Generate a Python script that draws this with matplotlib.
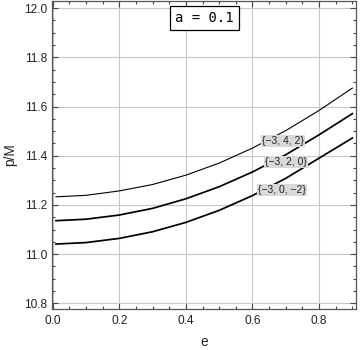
import matplotlib
matplotlib.use("Agg")
import matplotlib.pyplot as plt
from matplotlib.ticker import MultipleLocator, FormatStrFormatter

e_vals = [0.01, 0.1, 0.2, 0.3, 0.4, 0.5, 0.6, 0.7, 0.8, 0.9]
p_342 = [11.233, 11.239, 11.257, 11.283, 11.321, 11.370, 11.431, 11.502, 11.584, 11.675]
p_320 = [11.136, 11.142, 11.159, 11.186, 11.225, 11.274, 11.334, 11.404, 11.485, 11.571]
p_30m2 = [11.041, 11.047, 11.064, 11.091, 11.129, 11.178, 11.238, 11.308, 11.390, 11.472]

labels = ["{\u22123, 4, 2}", "{\u22123, 2, 0}", "{\u22123, 0, \u22122}"]
label_pos = [(0.692, 11.459), (0.700, 11.374), (0.689, 11.260)]

plt.rcParams['font.family'] = ['Liberation Sans', 'DejaVu Sans']

fig = plt.figure(figsize=(3.6, 3.5), dpi=100)
ax = fig.add_axes([52/360, 41/350, 304/360, 308.5/350])

ax.plot(e_vals, p_342, color='black', lw=0.8, zorder=3)
ax.plot(e_vals, p_320, color='black', lw=1.25, zorder=3)
ax.plot(e_vals, p_30m2, color='black', lw=1.25, zorder=3)

for lab, (x, y) in zip(labels, label_pos):
    ax.text(x, y, lab, fontsize=7.5, ha='center', va='center', color='#222222',
            bbox=dict(boxstyle='square,pad=0.12', fc='#d9d9d9', ec='none'), zorder=4)

ax.set_xlim(-0.002, 0.911)
ax.set_ylim(10.777, 12.031)
ax.xaxis.set_major_locator(MultipleLocator(0.2))
ax.xaxis.set_minor_locator(MultipleLocator(0.05))
ax.yaxis.set_major_locator(MultipleLocator(0.2))
ax.yaxis.set_minor_locator(MultipleLocator(0.05))
ax.xaxis.set_major_formatter(FormatStrFormatter('%.1f'))
ax.yaxis.set_major_formatter(FormatStrFormatter('%.1f'))

ax.tick_params(which='both', direction='in', top=True, right=True, color='#444444',
               labelsize=8.6, labelcolor='#222222', width=0.8)
ax.tick_params(which='major', length=4)
ax.tick_params(which='minor', length=2.5)
ax.tick_params(axis='x', which='major', pad=4)
ax.tick_params(axis='y', which='major', pad=3.5)
for s in ax.spines.values():
    s.set_color('#555555')
    s.set_linewidth(0.9)

ax.grid(True, which='major', color='#c8c8c8', lw=0.8, zorder=0)
ax.set_axisbelow(True)

ax.set_xlabel('e', fontsize=9.8, color='#222222', labelpad=6)
ax.set_ylabel('p/M', fontsize=9.8, color='#222222', labelpad=5)

ax.text(0.502, 0.943, 'a = 0.1', transform=ax.transAxes, fontsize=10,
        family='DejaVu Sans Mono', ha='center', va='center', color='black',
        bbox=dict(boxstyle='square,pad=0.35', fc='white', ec='black', lw=0.9), zorder=5)

fig.savefig('out.png', dpi=100)
